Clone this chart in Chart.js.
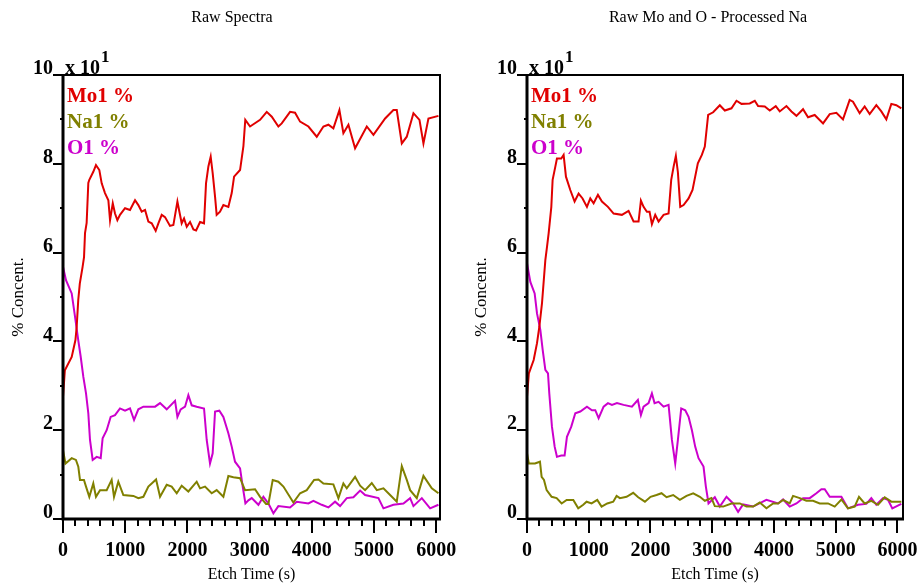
<!DOCTYPE html>
<html>
<head>
<meta charset="utf-8">
<title>Depth profile</title>
<script src="https://cdn.jsdelivr.net/npm/chart.js@4.4.0/dist/chart.umd.min.js"></script>
<style>
    html, body { margin: 0; padding: 0; background: #fff; }
    #wrap { position: relative; width: 922px; height: 584px; }
    canvas { position: absolute; top: 0; }
    #left { left: 0; }
    #right { left: 461px; }
</style>
</head>
<body>
<div id="wrap">
    <canvas id="left" width="461" height="584"></canvas>
    <canvas id="right" width="461" height="584"></canvas>
</div>
<script>
// ---- data (etch time in s, concentration in %) ----
const seriesLabels = ['Mo1 %', 'Na1 %', 'O1 %'];
const xTickValues = [0, 1000, 2000, 3000, 4000, 5000, 6000];
const yTickValues = [0, 20, 40, 60, 80, 100];

// Raw spectra
const rawMoTime = [0, 30, 140, 200, 220, 245, 270, 315, 338, 354, 380, 407, 423, 487, 530, 584, 622, 675, 729, 756, 800, 836, 874, 916, 997, 1077, 1158, 1211, 1265, 1319, 1372, 1426, 1490, 1533, 1587, 1640, 1720, 1774, 1839, 1871, 1908, 1946, 1989, 2042, 2096, 2139, 2203, 2267, 2299, 2337, 2374, 2406, 2444, 2470, 2524, 2578, 2658, 2712, 2750, 2846, 2900, 2930, 3007, 3168, 3275, 3356, 3462, 3516, 3650, 3730, 3811, 3945, 4079, 4186, 4266, 4346, 4443, 4507, 4588, 4695, 4883, 4990, 5178, 5311, 5365, 5446, 5526, 5633, 5730, 5794, 5874, 6035];
const rawMoPct = [27.5, 33.5, 36.5, 40.3, 43.3, 49.3, 53, 56.8, 59, 64.4, 66.7, 75.7, 76.4, 78.2, 79.7, 78.6, 75.6, 73.4, 71.8, 67.3, 71.1, 68.8, 67.3, 68.5, 70, 69.6, 71.8, 70.7, 69.2, 69.6, 67, 66.6, 64.9, 66.6, 68.5, 68, 66, 66.2, 71.5, 69.2, 66.6, 67.7, 65.8, 66.9, 65.2, 65, 66.9, 66.6, 75.6, 79.4, 81.6, 77.9, 72.6, 68.5, 69.2, 70.7, 70.3, 73.4, 77.1, 78.6, 84, 89.9, 88.4, 89.9, 91.7, 90.6, 88.4, 89.1, 91.7, 91.5, 89.5, 88.4, 86.1, 88.4, 88.8, 88, 92.1, 86.9, 88.8, 83.5, 88.4, 86.5, 90.2, 92.1, 92.1, 84.6, 86.1, 91.4, 89.9, 84.6, 90.2, 90.8];

const rawNaTime = [0, 40, 140, 208, 246, 273, 337, 370, 423, 487, 530, 595, 702, 782, 820, 889, 970, 1131, 1211, 1292, 1372, 1496, 1560, 1667, 1747, 1828, 1908, 2015, 2149, 2203, 2283, 2390, 2470, 2578, 2658, 2739, 2846, 2926, 3087, 3168, 3264, 3302, 3371, 3462, 3543, 3703, 3811, 3918, 4036, 4106, 4186, 4346, 4427, 4507, 4561, 4695, 4776, 4856, 4963, 5044, 5151, 5258, 5365, 5446, 5526, 5580, 5687, 5794, 5928, 6035];
const rawNaPct = [15.5, 12.5, 13.7, 13.3, 11.8, 8.8, 8.8, 7.3, 5, 8, 5, 6.5, 6.5, 8.8, 5, 8.4, 5.4, 5.2, 4.7, 5, 7.3, 8.9, 5, 7.7, 7.3, 5.8, 7.5, 6.2, 8.4, 6.9, 7.3, 5.8, 6.5, 5, 9.7, 9.4, 9.2, 6.5, 6.7, 5, 3.4, 3.4, 8.8, 8.4, 7.3, 3.7, 5.8, 6.5, 8.8, 8.9, 8, 7.8, 4.7, 8, 6.9, 9.5, 7.5, 6.5, 8.1, 6.5, 6.9, 5.4, 3.9, 11.9, 8.8, 6.5, 4.7, 9.7, 6.9, 5.8];

const rawOTime = [0, 48, 140, 193, 245, 284, 327, 370, 407, 434, 477, 541, 606, 637, 702, 766, 836, 916, 997, 1077, 1142, 1211, 1292, 1399, 1480, 1560, 1667, 1801, 1839, 1892, 1962, 2015, 2069, 2149, 2267, 2310, 2363, 2406, 2444, 2513, 2578, 2658, 2712, 2765, 2846, 2889, 2932, 2980, 3034, 3141, 3221, 3302, 3382, 3462, 3650, 3757, 3945, 4025, 4159, 4266, 4373, 4454, 4561, 4668, 4776, 4856, 5070, 5151, 5311, 5472, 5580, 5633, 5768, 5901, 6035];
const rawOPct = [56.8, 53.8, 50.8, 45.6, 40.3, 36.6, 32, 28.3, 23.8, 17.8, 13.3, 14, 13.7, 18.2, 20, 23, 23.4, 24.9, 24.4, 24.9, 22.3, 24.7, 25.3, 25.3, 25.3, 26.1, 24.7, 26.6, 23, 24.7, 25.3, 27.9, 25.6, 25.3, 24.9, 17.8, 12.5, 14.8, 24.2, 24.4, 23, 19.3, 16.3, 12.9, 11.4, 7.3, 3.5, 4.2, 4.7, 3.2, 5, 3.5, 1.3, 2.9, 2.6, 3.9, 3.5, 4.1, 3.2, 2.6, 3.9, 2.9, 4.7, 4.9, 6.4, 5.4, 4.7, 2.4, 3.2, 3.5, 4.7, 2.9, 4.7, 2.4, 3.2];

// Raw Mo and O, processed Na
const procMoTime = [0, 30, 108, 162, 200, 243, 297, 324, 350, 394, 415, 458, 485, 555, 593, 631, 701, 771, 836, 900, 971, 1025, 1079, 1149, 1214, 1311, 1403, 1537, 1645, 1726, 1807, 1845, 1888, 1942, 1985, 2023, 2077, 2131, 2212, 2293, 2336, 2374, 2411, 2444, 2482, 2536, 2617, 2681, 2724, 2767, 2832, 2880, 2934, 3015, 3123, 3204, 3312, 3393, 3474, 3608, 3689, 3743, 3851, 3932, 4029, 4094, 4202, 4283, 4364, 4471, 4552, 4660, 4795, 4903, 5011, 5118, 5226, 5280, 5388, 5469, 5550, 5658, 5739, 5820, 5901, 5982, 6063];
const procMoPct = [27.5, 32.8, 35.8, 39.6, 43.3, 48.6, 58.3, 61.3, 64.3, 70.3, 76.4, 79.3, 81.2, 81.2, 82, 77.1, 74.1, 71.5, 73.3, 72.2, 70.3, 72.2, 71.1, 73, 71.5, 70.3, 68.8, 68.5, 69.4, 67, 67, 71.7, 70.3, 69.2, 69.2, 66.4, 68.5, 67, 68.5, 68.8, 76.4, 79.3, 81.8, 78.1, 70.3, 70.7, 72.2, 74.1, 77.1, 80.1, 82, 83.9, 91, 91.6, 93.2, 92, 92.5, 94.2, 93.5, 93.6, 94.2, 93, 92.9, 92, 93, 91.8, 93, 91.8, 90.8, 92.3, 90.5, 91, 89.1, 91.2, 91.5, 90, 94.4, 94, 91.4, 92.9, 91.2, 93.2, 91.8, 90, 93.5, 93.2, 92.5];

const procNaTime = [0, 30, 129, 210, 237, 275, 318, 399, 480, 561, 642, 750, 830, 911, 965, 1046, 1138, 1208, 1300, 1397, 1451, 1505, 1613, 1720, 1801, 1910, 2001, 2098, 2179, 2260, 2368, 2476, 2584, 2692, 2800, 2880, 2988, 3042, 3177, 3312, 3447, 3555, 3662, 3770, 3878, 3986, 4067, 4148, 4255, 4309, 4418, 4525, 4633, 4741, 4876, 4984, 5092, 5199, 5307, 5377, 5469, 5577, 5685, 5793, 5901, 6063];
const procNaPct = [14.8, 12.5, 12.5, 12.9, 9.5, 8.8, 6.5, 5, 4.7, 3.5, 4.3, 4.3, 2.4, 3.2, 3.9, 3.5, 4.3, 2.8, 3.5, 3.9, 5.2, 4.7, 5, 5.9, 4.9, 3.9, 5, 5.4, 5.8, 4.9, 5.4, 4.3, 5.2, 5.8, 5, 4.1, 4.7, 2.9, 2.8, 3.5, 3.5, 2.8, 2.8, 3.7, 2.4, 3.5, 3.5, 4.3, 3.5, 5.2, 4.7, 4.1, 4.1, 3.5, 3.5, 2.8, 4.4, 2.4, 2.8, 5, 3.5, 4.1, 3.2, 4.9, 3.9, 3.9];

const procOTime = [0, 54, 124, 162, 216, 254, 297, 340, 361, 404, 448, 485, 555, 609, 647, 717, 782, 863, 971, 1052, 1106, 1160, 1241, 1311, 1376, 1457, 1564, 1699, 1796, 1845, 1888, 1969, 2023, 2066, 2131, 2212, 2293, 2347, 2401, 2444, 2498, 2563, 2617, 2671, 2724, 2778, 2859, 2897, 2940, 3042, 3123, 3231, 3339, 3419, 3500, 3662, 3878, 4067, 4148, 4255, 4364, 4471, 4579, 4687, 4768, 4822, 4903, 5092, 5199, 5361, 5496, 5577, 5658, 5766, 5847, 5917, 6063];
const procOPct = [57.6, 53.4, 50.8, 46.3, 42.6, 38.1, 33.6, 32.8, 28.3, 20.8, 16.3, 14, 14.3, 14.3, 18.5, 20.8, 23.8, 24.2, 25.3, 24.5, 24.5, 22.7, 25.3, 26.1, 25.7, 26.1, 25.7, 25.3, 26.8, 23.4, 25.3, 26.1, 28.3, 26.1, 26.4, 25.3, 25.7, 17.8, 12.5, 17.8, 24.9, 24.5, 23, 20, 16.3, 13.7, 11.8, 7.3, 3.5, 4.9, 2.8, 5, 3.5, 1.6, 3.3, 2.8, 4.3, 3.5, 4.4, 2.8, 3.5, 4.7, 4.7, 5.8, 6.7, 6.7, 5, 5, 2.4, 3.2, 3.4, 4.7, 3.2, 4.7, 4.3, 2.4, 3.4];

const colors = { mo: '#e00000', na: '#808000', o: '#cc00cc' };
const serif = '"Liberation Serif", "Times New Roman", serif';

function toPoints(times, values) {
    return times.map((t, i) => ({ x: t, y: values[i] }));
}

// frame, tick marks, legend, exponent and title are drawn on top of the plot
const framePlugin = {
    id: 'frame',
    afterDatasetsDraw(chart, args, opts) {
        const ctx = chart.ctx;
        const a = chart.chartArea;
        const xs = chart.scales.x;
        const ys = chart.scales.y;
        ctx.save();
        ctx.strokeStyle = '#000';
        ctx.fillStyle = '#000';

        // plot border
        ctx.lineWidth = 2;
        ctx.beginPath();
        ctx.moveTo(a.left, a.top);
        ctx.lineTo(a.right, a.top);
        ctx.lineTo(a.right, a.bottom);
        ctx.stroke();
        ctx.lineWidth = 3;
        ctx.beginPath();
        ctx.moveTo(a.left, a.top - 1);
        ctx.lineTo(a.left, a.bottom);
        ctx.lineTo(a.right + 1, a.bottom);
        ctx.stroke();

        // x ticks, minor every 200 s
        ctx.lineWidth = 2;
        for (let t = 0; t <= xs.max; t += 200) {
            const px = Math.round(xs.getPixelForValue(t));
            const len = t % 1000 === 0 ? 14 : 7;
            ctx.beginPath();
            ctx.moveTo(px, a.bottom);
            ctx.lineTo(px, a.bottom + len);
            ctx.stroke();
        }
        // y ticks, minor every 10 %
        for (let v = 0; v <= ys.max; v += 10) {
            const py = Math.round(ys.getPixelForValue(v));
            const len = v % 20 === 0 ? 10 : 3;
            ctx.beginPath();
            ctx.moveTo(a.left, py);
            ctx.lineTo(a.left - len, py);
            ctx.stroke();
        }

        // legend inside the plot
        ctx.font = 'bold 21px ' + serif;
        ctx.textAlign = 'left';
        ctx.textBaseline = 'alphabetic';
        chart.data.datasets.forEach((ds, i) => {
            ctx.fillStyle = ds.borderColor;
            ctx.fillText(ds.label, a.left + 4, a.top + 27 + i * 26);
        });

        // "x 10^1" multiplier
        ctx.fillStyle = '#000';
        ctx.font = 'bold 20px ' + serif;
        ctx.fillText('x 10', a.left + 2, a.top - 1);
        const w = ctx.measureText('x 10').width;
        ctx.font = 'bold 17px ' + serif;
        ctx.fillText('1', a.left + 3 + w, a.top - 13);

        // chart title
        ctx.font = '16px ' + serif;
        ctx.textAlign = 'center';
        ctx.fillText(opts.text, opts.x, 22);
        ctx.restore();
    }
};

function createChart(canvasId, sets, opts) {
    const ctx = document.getElementById(canvasId);
    return new Chart(ctx, {
        type: 'line',
        data: {
            datasets: [
                { label: seriesLabels[0], data: toPoints(sets[0][0], sets[0][1]), borderColor: colors.mo },
                { label: seriesLabels[1], data: toPoints(sets[1][0], sets[1][1]), borderColor: colors.na },
                { label: seriesLabels[2], data: toPoints(sets[2][0], sets[2][1]), borderColor: colors.o }
            ]
        },
        options: {
            responsive: false,
            animation: false,
            devicePixelRatio: 1,
            layout: { padding: { top: 75, right: opts.padRight, bottom: 0, left: 0 } },
            elements: {
                line: { borderWidth: 2, tension: 0, fill: false },
                point: { radius: 0 }
            },
            plugins: {
                legend: { display: false },
                tooltip: { enabled: false },
                frame: { text: opts.title, x: opts.titleX }
            },
            scales: {
                x: {
                    type: 'linear',
                    min: 0,
                    max: opts.xMax,
                    afterBuildTicks: (s) => { s.ticks = xTickValues.map(v => ({ value: v })); },
                    afterFit: (s) => { s.height = 65; s.paddingLeft = 0; s.paddingRight = 0; },
                    grid: { display: false, drawTicks: false },
                    border: { display: false },
                    ticks: {
                        padding: 20,
                        color: '#000',
                        maxRotation: 0,
                        font: { family: serif, size: 20, weight: 'bold' },
                        callback: (v) => String(v)
                    },
                    title: {
                        display: true,
                        text: 'Etch Time (s)',
                        color: '#000',
                        padding: { top: 0, bottom: 0 },
                        font: { family: serif, size: 16 }
                    }
                },
                y: {
                    min: 0,
                    max: 100,
                    afterBuildTicks: (s) => { s.ticks = yTickValues.map(v => ({ value: v })); },
                    afterFit: (s) => { s.width = opts.yWidth; s.paddingTop = 0; s.paddingBottom = 0; },
                    grid: { display: false, drawTicks: false },
                    border: { display: false },
                    ticks: {
                        padding: 10,
                        labelOffset: -6,
                        color: '#000',
                        font: { family: serif, size: 20, weight: 'bold' },
                        callback: (v) => String(v / 10)
                    },
                    title: {
                        display: true,
                        text: '% Concent.',
                        color: '#000',
                        padding: { top: opts.yTitlePad, bottom: 0 },
                        font: { family: serif, size: 17 }
                    }
                }
            }
        },
        plugins: [framePlugin]
    });
}

createChart('left',
    [[rawMoTime, rawMoPct], [rawNaTime, rawNaPct], [rawOTime, rawOPct]],
    { title: 'Raw Spectra', titleX: 232, xMax: 6060, yWidth: 63, padRight: 21, yTitlePad: 8 });

createChart('right',
    [[procMoTime, procMoPct], [procNaTime, procNaPct], [procOTime, procOPct]],
    { title: 'Raw Mo and O - Processed Na', titleX: 247, xMax: 6090, yWidth: 66, padRight: 19, yTitlePad: 10 });
</script>
</body>
</html>
